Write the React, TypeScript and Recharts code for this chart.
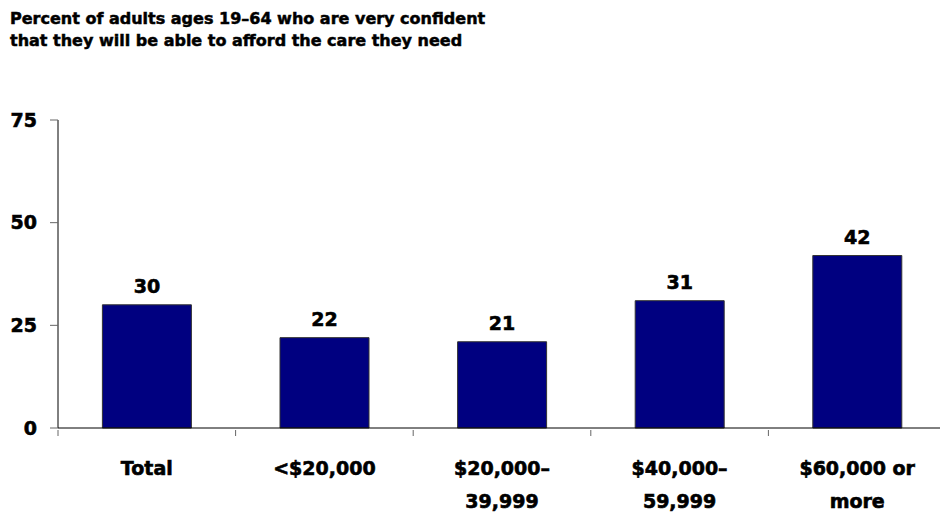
import React from 'react';
import { BarChart, Bar, XAxis, YAxis, LabelList } from 'recharts';

const categories = ['Total', '<$20,000', '$20,000–\n39,999', '$40,000–\n59,999', '$60,000 or\nmore'];
const values = [30, 22, 21, 31, 42];
const yTicks = [0, 25, 50, 75];

const FONT = '"DejaVu Sans", sans-serif';
const heavy = { fontFamily: FONT, fontWeight: 'bold', fontSize: 19, fill: '#000', stroke: '#000', strokeWidth: 0.6 };

const data = categories.map((name, i) => ({ name, value: values[i] }));

// label lines plus the short boundary marks that sit between categories
const CategoryTick = (props: any) => {
  const { x, y, payload, width, visibleTicksCount } = props;
  const band = width / visibleTicksCount;
  const lines = String(payload.value).split('\n');
  return (
    <g>
      <line x1={x - band / 2} x2={x - band / 2} y1={y} y2={y + 6} stroke="#666" />
      {payload.index === visibleTicksCount - 1 && (
        <line x1={x + band / 2} x2={x + band / 2} y1={y} y2={y + 6} stroke="#666" />
      )}
      <text x={x} y={y} textAnchor="middle" {...heavy}>
        {lines.map((line, i) => (
          <tspan key={i} x={x} dy={i === 0 ? 45 : 33}>
            {line}
          </tspan>
        ))}
      </text>
    </g>
  );
};

const App: React.FC = () => {
  return (
    <div style={{ position: 'absolute', left: 0, top: 0, width: 940, height: 512, overflow: 'hidden', background: '#fff' }}>
      <div
        style={{
          position: 'absolute',
          left: 10,
          top: 8,
          fontFamily: FONT,
          fontWeight: 'bold',
          fontSize: 16,
          lineHeight: '22px',
          color: '#000',
          WebkitTextStroke: '0.5px #000',
        }}
      >
        Percent of adults ages 19–64 who are very confident
        <br />
        that they will be able to afford the care they need
      </div>
      <BarChart
        width={960}
        height={512}
        data={data}
        margin={{ top: 120, right: 14, bottom: 0, left: 0 }}
        barCategoryGap="25%"
      >
        <XAxis
          dataKey="name"
          height={84}
          interval={0}
          tickLine={false}
          tickSize={0}
          tick={<CategoryTick />}
          axisLine={{ stroke: '#000' }}
        />
        <YAxis
          domain={[0, 75]}
          ticks={yTicks}
          width={58}
          tickSize={8}
          tickMargin={13}
          axisLine={{ stroke: '#000' }}
          tickLine={{ stroke: '#666' }}
          tick={heavy}
        />
        <Bar dataKey="value" fill="#000080" stroke="#333" strokeWidth={1} isAnimationActive={false}>
          <LabelList dataKey="value" position="top" offset={12} style={heavy} />
        </Bar>
      </BarChart>
    </div>
  );
};

export default App;
